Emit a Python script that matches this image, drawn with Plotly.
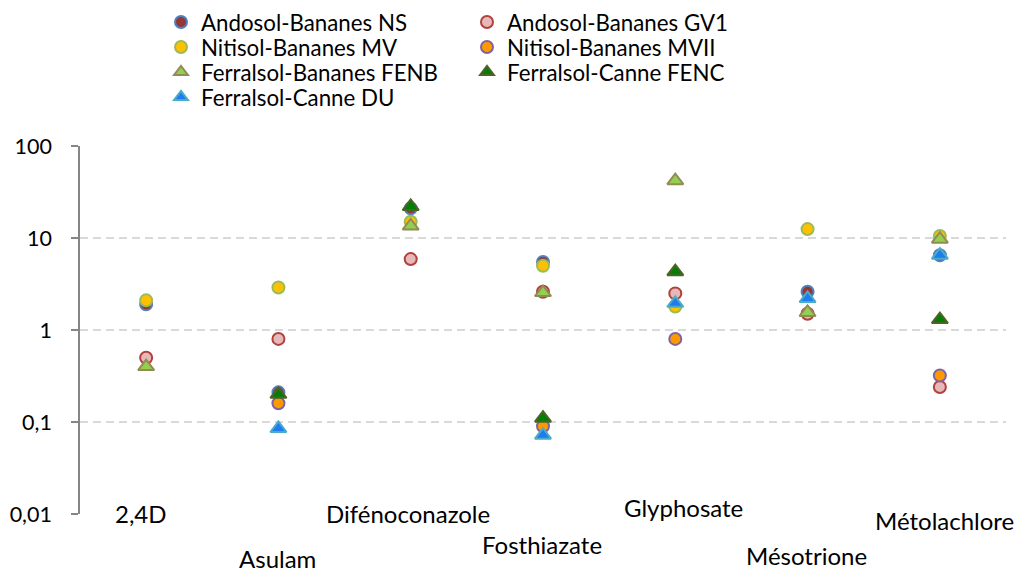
import plotly.graph_objects as go

categories = ['2,4D', 'Asulam', 'Difénoconazole', 'Fosthiazate', 'Glyphosate', 'Mésotrione', 'Métolachlore']

andosol_ns = [1.9, 0.21, 21, 5.5, None, 2.6, 6.5]
andosol_gv1 = [0.5, 0.8, 5.9, 2.6, 2.5, 1.5, 0.24]
nitisol_mv = [2.1, 2.9, 15, 5.0, 1.8, 12.5, 10.5]
nitisol_mvii = [None, 0.16, None, 0.09, 0.8, None, 0.32]
ferralsol_fenb = [0.4, None, 13.5, 2.55, 42, 1.55, 9.7]
ferralsol_fenc = [None, 0.2, 22, 0.11, 4.3, None, 1.3]
ferralsol_du = [None, 0.085, None, 0.072, 1.95, 2.2, 6.5]

tick_vals = [0.01, 0.1, 1, 10, 100]
tick_text = ['0,01', '0,1', '1', '10', '100']

FONT = 'Lato'

series = [
    ('Andosol-Bananes NS', andosol_ns, 'circle', '#953735', '#4F81BD', 'legend'),
    ('Andosol-Bananes GV1', andosol_gv1, 'circle', '#E6B9B8', '#B0413E', 'legend'),
    ('Nitisol-Bananes MV', nitisol_mv, 'circle', '#FFC000', '#9BBB59', 'legend2'),
    ('Nitisol-Bananes MVII', nitisol_mvii, 'circle', '#FF9900', '#8064A2', 'legend2'),
    ('Ferralsol-Bananes FENB', ferralsol_fenb, 'triangle-up', '#92D050', '#948A54', 'legend3'),
    ('Ferralsol-Canne FENC', ferralsol_fenc, 'triangle-up', '#008000', '#4F6228', 'legend3'),
    ('Ferralsol-Canne DU', ferralsol_du, 'triangle-up', '#1E7BF0', '#4BACC6', 'legend4'),
]

fig = go.Figure()
for name, vals, sym, fill, line, leg in series:
    size = 12 if sym == 'circle' else 14
    fig.add_trace(go.Scatter(
        x=categories, y=vals, name=name, mode='markers', legend=leg,
        marker=dict(symbol=sym, size=size, color=fill, line=dict(color=line, width=2)),
    ))

# plot area: x 80..1006, y 146..514
L, R, T, B = 80, 14, 146, 60
H = 574 - T - B

def py(pix):
    return (574 - B - pix) / H

def px(pix):
    return (pix - L) / (1020 - L - R)

leg_common = dict(orientation='h', entrywidth=261, entrywidthmode='pixels',
                  font=dict(family=FONT, size=22.3, color='#000000'),
                  bgcolor='rgba(0,0,0,0)', xanchor='left', yanchor='middle',
                  itemsizing='constant')
rows = [22, 47, 72, 97]
LX = 161
fig.update_layout(
    legend=dict(x=px(LX), y=py(rows[0]), **leg_common),
    legend2=dict(x=px(LX), y=py(rows[1]), **leg_common),
    legend3=dict(x=px(LX), y=py(rows[2]), **leg_common),
    legend4=dict(x=px(LX), y=py(rows[3]), **leg_common),
)

label_y = [513, 558, 513, 544, 507, 555, 520]
label_dx = [-5, -1, -3, -1, 8, -1, 5]
for cat, ly, dx in zip(categories, label_y, label_dx):
    fig.add_annotation(x=cat, xref='x', y=0, yref='paper', yanchor='middle',
                       yshift=-(ly - 514), xshift=dx, text=cat, showarrow=False,
                       font=dict(family=FONT, size=24, color='#000000'))

fig.update_xaxes(type='category', range=[-0.5, 6.5], showgrid=False, showticklabels=False,
                 showline=False, zeroline=False, ticks='')
fig.update_yaxes(type='log', range=[-2, 2], tickvals=tick_vals, ticktext=tick_text,
                 showgrid=True, gridcolor='#D9D9D9', gridwidth=1.5, griddash='8px,5px',
                 showline=True, linecolor='#868686', linewidth=1.5,
                 ticks='outside', ticklen=7, tickcolor='#868686', tickwidth=1.5,
                 ticklabelstandoff=15, zeroline=False,
                 tickfont=dict(family=FONT, size=21.5, color='#000000'))

fig.update_layout(
    width=1020, height=574,
    margin=dict(l=L, r=R, t=T, b=B, autoexpand=False),
    paper_bgcolor='white', plot_bgcolor='white',
    font=dict(family=FONT, size=22, color='#000000'),
    showlegend=True,
)

fig.write_html('out.html', config={'displayModeBar': False},
               post_script="document.body.style.margin='0';document.body.style.overflow='hidden';")
